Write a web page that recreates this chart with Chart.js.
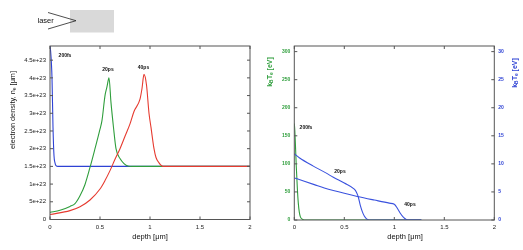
<!DOCTYPE html>
<html>
<head>
<meta charset="utf-8">
<script src="https://cdn.jsdelivr.net/npm/chart.js@4.4.0/dist/chart.umd.min.js"></script>
<style>
  html, body { margin: 0; padding: 0; background: #fff; }
  #wrap { position: relative; width: 523px; height: 250px; overflow: hidden; }
  #laser { position: absolute; left: 0; top: 0; z-index: 2; }
  #left { position: absolute; left: 0; top: 0; }
  #right { position: absolute; left: 260px; top: 0; }
</style>
</head>
<body>
<div id="wrap">
  <canvas id="left" width="260" height="250"></canvas>
  <canvas id="right" width="263" height="250"></canvas>
  <svg id="laser" width="130" height="40">
    <rect x="70" y="10" width="44" height="22.5" fill="#d9d9d9"/>
    <line x1="48" y1="12.5" x2="76" y2="20.7" stroke="#222" stroke-width="0.8"/>
    <line x1="48" y1="29" x2="76" y2="20.7" stroke="#222" stroke-width="0.8"/>
    <text x="37.5" y="23" style="font-family: 'Liberation Sans', Arial; font-size: 7.5px; fill: #111;">laser</text>
  </svg>
</div>
<script>
// tick values
const depthTicks = [0, 0.5, 1, 1.5, 2];
const neTicks = [0, 0.5e23, 1e23, 1.5e23, 2e23, 2.5e23, 3e23, 3.5e23, 4e23, 4.5e23];
const teTicks = [0, 50, 100, 150, 200, 250, 300];
const teTicks2 = [0, 5, 10, 15, 20, 25, 30];

// ---- left panel: electron density (values x 1e23) ----
const depth200fs = [0, 0.02, 0.03, 0.04, 0.05, 0.06, 0.08, 2];
const ne200fs    = [5.0, 4.0, 2.6, 1.8, 1.6, 1.52, 1.5, 1.5];

const depth20ps = [0, 0.1, 0.2, 0.25, 0.3, 0.35, 0.4, 0.45, 0.5, 0.52, 0.55, 0.57, 0.59,
                   0.61, 0.635, 0.66, 0.7, 0.74, 0.78, 0.82, 2];
const ne20ps    = [0.2, 0.26, 0.37, 0.45, 0.67, 0.99, 1.47, 2.0, 2.55, 2.8, 3.5, 3.75, 4.0,
                   3.3, 2.6, 2.0, 1.72, 1.58, 1.51, 1.5, 1.5];

const depth40ps = [0, 0.2, 0.3, 0.4, 0.5, 0.55, 0.6, 0.65, 0.7, 0.75, 0.8, 0.84, 0.9, 0.92,
                   0.94, 0.965, 0.99, 1.01, 1.04, 1.06, 1.09, 1.13, 2];
const ne40ps    = [0.14, 0.25, 0.36, 0.55, 0.86, 1.1, 1.38, 1.7, 2.0, 2.35, 2.7, 3.05, 3.4, 3.7,
                   4.1, 3.8, 3.0, 2.6, 2.0, 1.75, 1.6, 1.5, 1.5];

// ---- right panel: temperatures ----
const tDepth200fs = [0, 0.005, 0.01, 0.02, 0.03, 0.04, 0.05, 0.06, 0.08, 0.1, 1.27];
const te200fs     = [172, 160, 140, 95, 58, 30, 14, 6, 1.5, 0, 0];      // left axis

const tDepth20ps = [0, 0.05, 0.19, 0.32, 0.39, 0.5, 0.6, 0.62, 0.64, 0.66, 0.68, 0.7, 0.72, 0.75, 1.27];
const te20ps     = [11.8, 11.1, 9.6, 8.35, 7.6, 6.6, 5.5, 5.0, 4.1, 2.6, 1.5, 0.7, 0.25, 0, 0];

const tDepth40ps = [0, 0.1, 0.2, 0.3, 0.4, 0.5, 0.63, 0.8, 0.95, 1.0, 1.03, 1.06, 1.09, 1.12, 1.15, 1.27];
const te40ps     = [7.5, 6.9, 6.3, 5.7, 5.2, 4.75, 4.2, 3.55, 3.0, 2.8, 2.1, 1.2, 0.5, 0.1, 0, 0];

const GREEN = '#2f9e3c', RED = '#e63b30', BLUE = '#2e42d4', BLUE2 = '#3a52de';
const FONT = 'Liberation Sans, Arial, sans-serif';

function pts(xs, ys, k) { return xs.map((x, i) => ({ x: x, y: ys[i] * (k || 1) })); }
function line(data, color, axis) {
  return { data: data, borderColor: color, borderWidth: 1.1, pointRadius: 0,
           cubicInterpolationMode: 'monotone', yAxisID: axis || 'y', fill: false };
}
function useTicks(values) {
  return function (s) { s.ticks = values.map(v => ({ value: v })); };
}

function drawRich(ctx, parts, x, y, size, color, rot, weight) {
  ctx.save();
  ctx.translate(x, y);
  ctx.rotate(rot || 0);
  ctx.fillStyle = color;
  ctx.textBaseline = 'middle';
  ctx.textAlign = 'left';
  const f = p => (weight || '') + ' ' + (p.sub ? size * 0.7 : size) + 'px ' + FONT;
  let w = 0;
  parts.forEach(p => { ctx.font = f(p); w += ctx.measureText(p.t).width; });
  let cx = -w / 2;
  parts.forEach(p => {
    ctx.font = f(p);
    ctx.fillText(p.t, cx, p.sub ? size * 0.3 : 0);
    cx += ctx.measureText(p.t).width;
  });
  ctx.restore();
}

// box, inside ticks, axis titles and curve labels (gnuplot look)
const framePlugin = {
  id: 'frame',
  afterDraw(chart, args, o) {
    const { ctx, chartArea: a } = chart;
    ctx.save();
    ctx.strokeStyle = '#555';
    ctx.lineWidth = 1;
    ctx.strokeRect(a.left, a.top, a.right - a.left, a.bottom - a.top);
    const L = 3;
    ctx.beginPath();
    const xs = chart.scales.x;
    xs.ticks.forEach(t => {
      const p = xs.getPixelForValue(t.value);
      ctx.moveTo(p, a.bottom); ctx.lineTo(p, a.bottom - L);
      ctx.moveTo(p, a.top); ctx.lineTo(p, a.top + L);
    });
    Object.values(chart.scales).filter(s => s.axis === 'y').forEach(s => {
      s.ticks.forEach(t => {
        const p = s.getPixelForValue(t.value);
        if (s.position === 'left' || o.mirror) { ctx.moveTo(a.left, p); ctx.lineTo(a.left + L, p); }
        if (s.position === 'right' || o.mirror) { ctx.moveTo(a.right, p); ctx.lineTo(a.right - L, p); }
      });
    });
    ctx.stroke();
    ctx.restore();
    (o.titles || []).forEach(t => drawRich(ctx, t.parts, t.x, t.y, t.size, t.color, t.rot, t.weight));
    (o.labels || []).forEach(l => {
      const px = chart.scales.x.getPixelForValue(l.x);
      const py = chart.scales[l.axis || 'y'].getPixelForValue(l.y);
      drawRich(ctx, [{ t: l.text }], px, py, 5, '#111', 0, 'bold');
    });
  }
};

const xScale = (h) => ({
  type: 'linear', min: 0, max: 2,
  grid: { display: false, drawTicks: false }, border: { display: false },
  afterBuildTicks: useTicks(depthTicks),
  ticks: { padding: 4, color: '#222', font: { family: FONT, size: 6 }, autoSkip: false,
    callback: v => String(v) },
  afterFit: s => { s.height = h; }
});

new Chart(document.getElementById('left'), {
  type: 'line',
  data: { datasets: [
    line(pts(depth40ps, ne40ps, 1e23), RED),
    line(pts(depth20ps, ne20ps, 1e23), GREEN),
    line(pts(depth200fs, ne200fs, 1e23), BLUE)
  ] },
  options: {
    responsive: false, animation: false, devicePixelRatio: 1,
    layout: { padding: { top: 46, right: 10, left: 0, bottom: 0 } },
    plugins: {
      legend: { display: false }, tooltip: { enabled: false },
      frame: {
        mirror: true,
        titles: [
          { parts: [{ t: 'electron density, n' }, { t: 'e', sub: true }, { t: ' [μm]' }],
            x: 12.5, y: 110, size: 7.3, color: '#111', rot: -Math.PI / 2 },
          { parts: [{ t: 'depth [μm]' }], x: 150, y: 237, size: 7.5, color: '#111' }
        ],
        labels: [
          { text: '200fs', x: 0.15, y: 4.64e23 },
          { text: '20ps', x: 0.58, y: 4.23e23 },
          { text: '40ps', x: 0.935, y: 4.29e23 }
        ]
      }
    },
    scales: {
      x: xScale(30.5),
      y: {
        type: 'linear', min: 0, max: 4.9e23,
        grid: { display: false, drawTicks: false }, border: { display: false },
        afterBuildTicks: useTicks(neTicks),
        ticks: { padding: 4, color: '#222', font: { family: FONT, size: 6 }, autoSkip: false,
          callback: v => v === 0 ? '0' : Number(v.toPrecision(3)).toExponential() },
        afterFit: s => { s.width = 50; }
      }
    }
  },
  plugins: [framePlugin]
});

new Chart(document.getElementById('right'), {
  type: 'line',
  data: { datasets: [
    line(pts(tDepth20ps, te20ps), BLUE2, 'y2'),
    line(pts(tDepth40ps, te40ps), BLUE2, 'y2'),
    line(pts(tDepth200fs, te200fs), GREEN, 'y')
  ] },
  options: {
    responsive: false, animation: false, devicePixelRatio: 1,
    layout: { padding: { top: 46, right: 0, left: 0, bottom: 0 } },
    plugins: {
      legend: { display: false }, tooltip: { enabled: false },
      frame: {
        mirror: false,
        titles: [
          { parts: [{ t: 'k' }, { t: 'B', sub: true }, { t: 'T' }, { t: 'e', sub: true }, { t: ' [eV]' }],
            x: 10, y: 72, size: 7, color: GREEN, rot: -Math.PI / 2, weight: 'bold' },
          { parts: [{ t: 'k' }, { t: 'B', sub: true }, { t: 'T' }, { t: 'e', sub: true }, { t: ' [eV]' }],
            x: 255, y: 73, size: 7, color: BLUE, rot: -Math.PI / 2, weight: 'bold' },
          { parts: [{ t: 'depth [μm]' }], x: 145, y: 237, size: 7.5, color: '#111' }
        ],
        labels: [
          { text: '200fs', x: 0.117, y: 164 },
          { text: '20ps', x: 0.457, y: 87 },
          { text: '40ps', x: 1.157, y: 28 }
        ]
      }
    },
    scales: {
      x: xScale(30),
      y: {
        type: 'linear', position: 'left', min: 0, max: 310,
        grid: { display: false, drawTicks: false }, border: { display: false },
        afterBuildTicks: useTicks(teTicks),
        ticks: { padding: 4, color: GREEN, autoSkip: false, font: { family: FONT, size: 5, weight: 'bold' } },
        afterFit: s => { s.width = 34.3; }
      },
      y2: {
        type: 'linear', position: 'right', min: 0, max: 31,
        grid: { display: false, drawTicks: false }, border: { display: false },
        afterBuildTicks: useTicks(teTicks2),
        ticks: { padding: 4, color: BLUE, autoSkip: false, font: { family: FONT, size: 5, weight: 'bold' } },
        afterFit: s => { s.width = 28.7; }
      }
    }
  },
  plugins: [framePlugin]
});
</script>
</body>
</html>
